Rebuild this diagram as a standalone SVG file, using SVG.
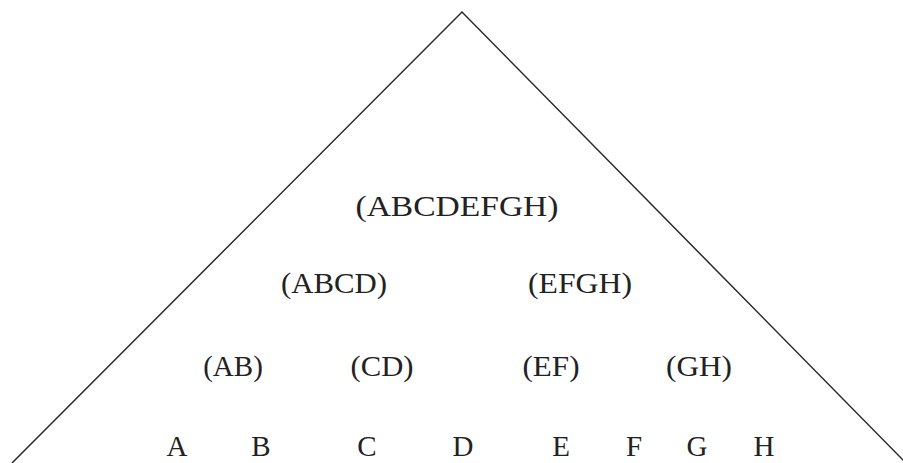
<svg xmlns="http://www.w3.org/2000/svg" width="903" height="463" viewBox="0 0 903 463">
<style>
.lbl{font-family:"Liberation Serif","Times New Roman",serif;font-size:29px;fill:#222;text-anchor:middle}
.edge{fill:none;stroke:#2a2a2a;stroke-width:1.5}
</style>
<rect width="903" height="463" fill="#fff"/>
<g id="connectors">
<polyline class="edge" points="12,463 462,12 906,463"/>
</g>
<g id="n-ABCDEFGH"><text class="lbl" x="457" y="216" textLength="203" lengthAdjust="spacingAndGlyphs">(ABCDEFGH)</text></g>
<g id="n-ABCD"><text class="lbl" x="334" y="293" textLength="106" lengthAdjust="spacingAndGlyphs">(ABCD)</text></g>
<g id="n-EFGH"><text class="lbl" x="580" y="293" textLength="104" lengthAdjust="spacingAndGlyphs">(EFGH)</text></g>
<g id="n-AB"><text class="lbl" x="233" y="376">(AB)</text></g>
<g id="n-CD"><text class="lbl" x="382" y="376" textLength="63" lengthAdjust="spacingAndGlyphs">(CD)</text></g>
<g id="n-EF"><text class="lbl" x="551" y="376" textLength="57" lengthAdjust="spacingAndGlyphs">(EF)</text></g>
<g id="n-GH"><text class="lbl" x="699" y="376" textLength="66" lengthAdjust="spacingAndGlyphs">(GH)</text></g>
<g id="n-A"><text class="lbl" x="177" y="456">A</text></g>
<g id="n-B"><text class="lbl" x="261" y="456">B</text></g>
<g id="n-C"><text class="lbl" x="367" y="456">C</text></g>
<g id="n-D"><text class="lbl" x="463" y="456">D</text></g>
<g id="n-E"><text class="lbl" x="561" y="456">E</text></g>
<g id="n-F"><text class="lbl" x="634" y="456">F</text></g>
<g id="n-G"><text class="lbl" x="697" y="456">G</text></g>
<g id="n-H"><text class="lbl" x="764" y="456">H</text></g>
</svg>
